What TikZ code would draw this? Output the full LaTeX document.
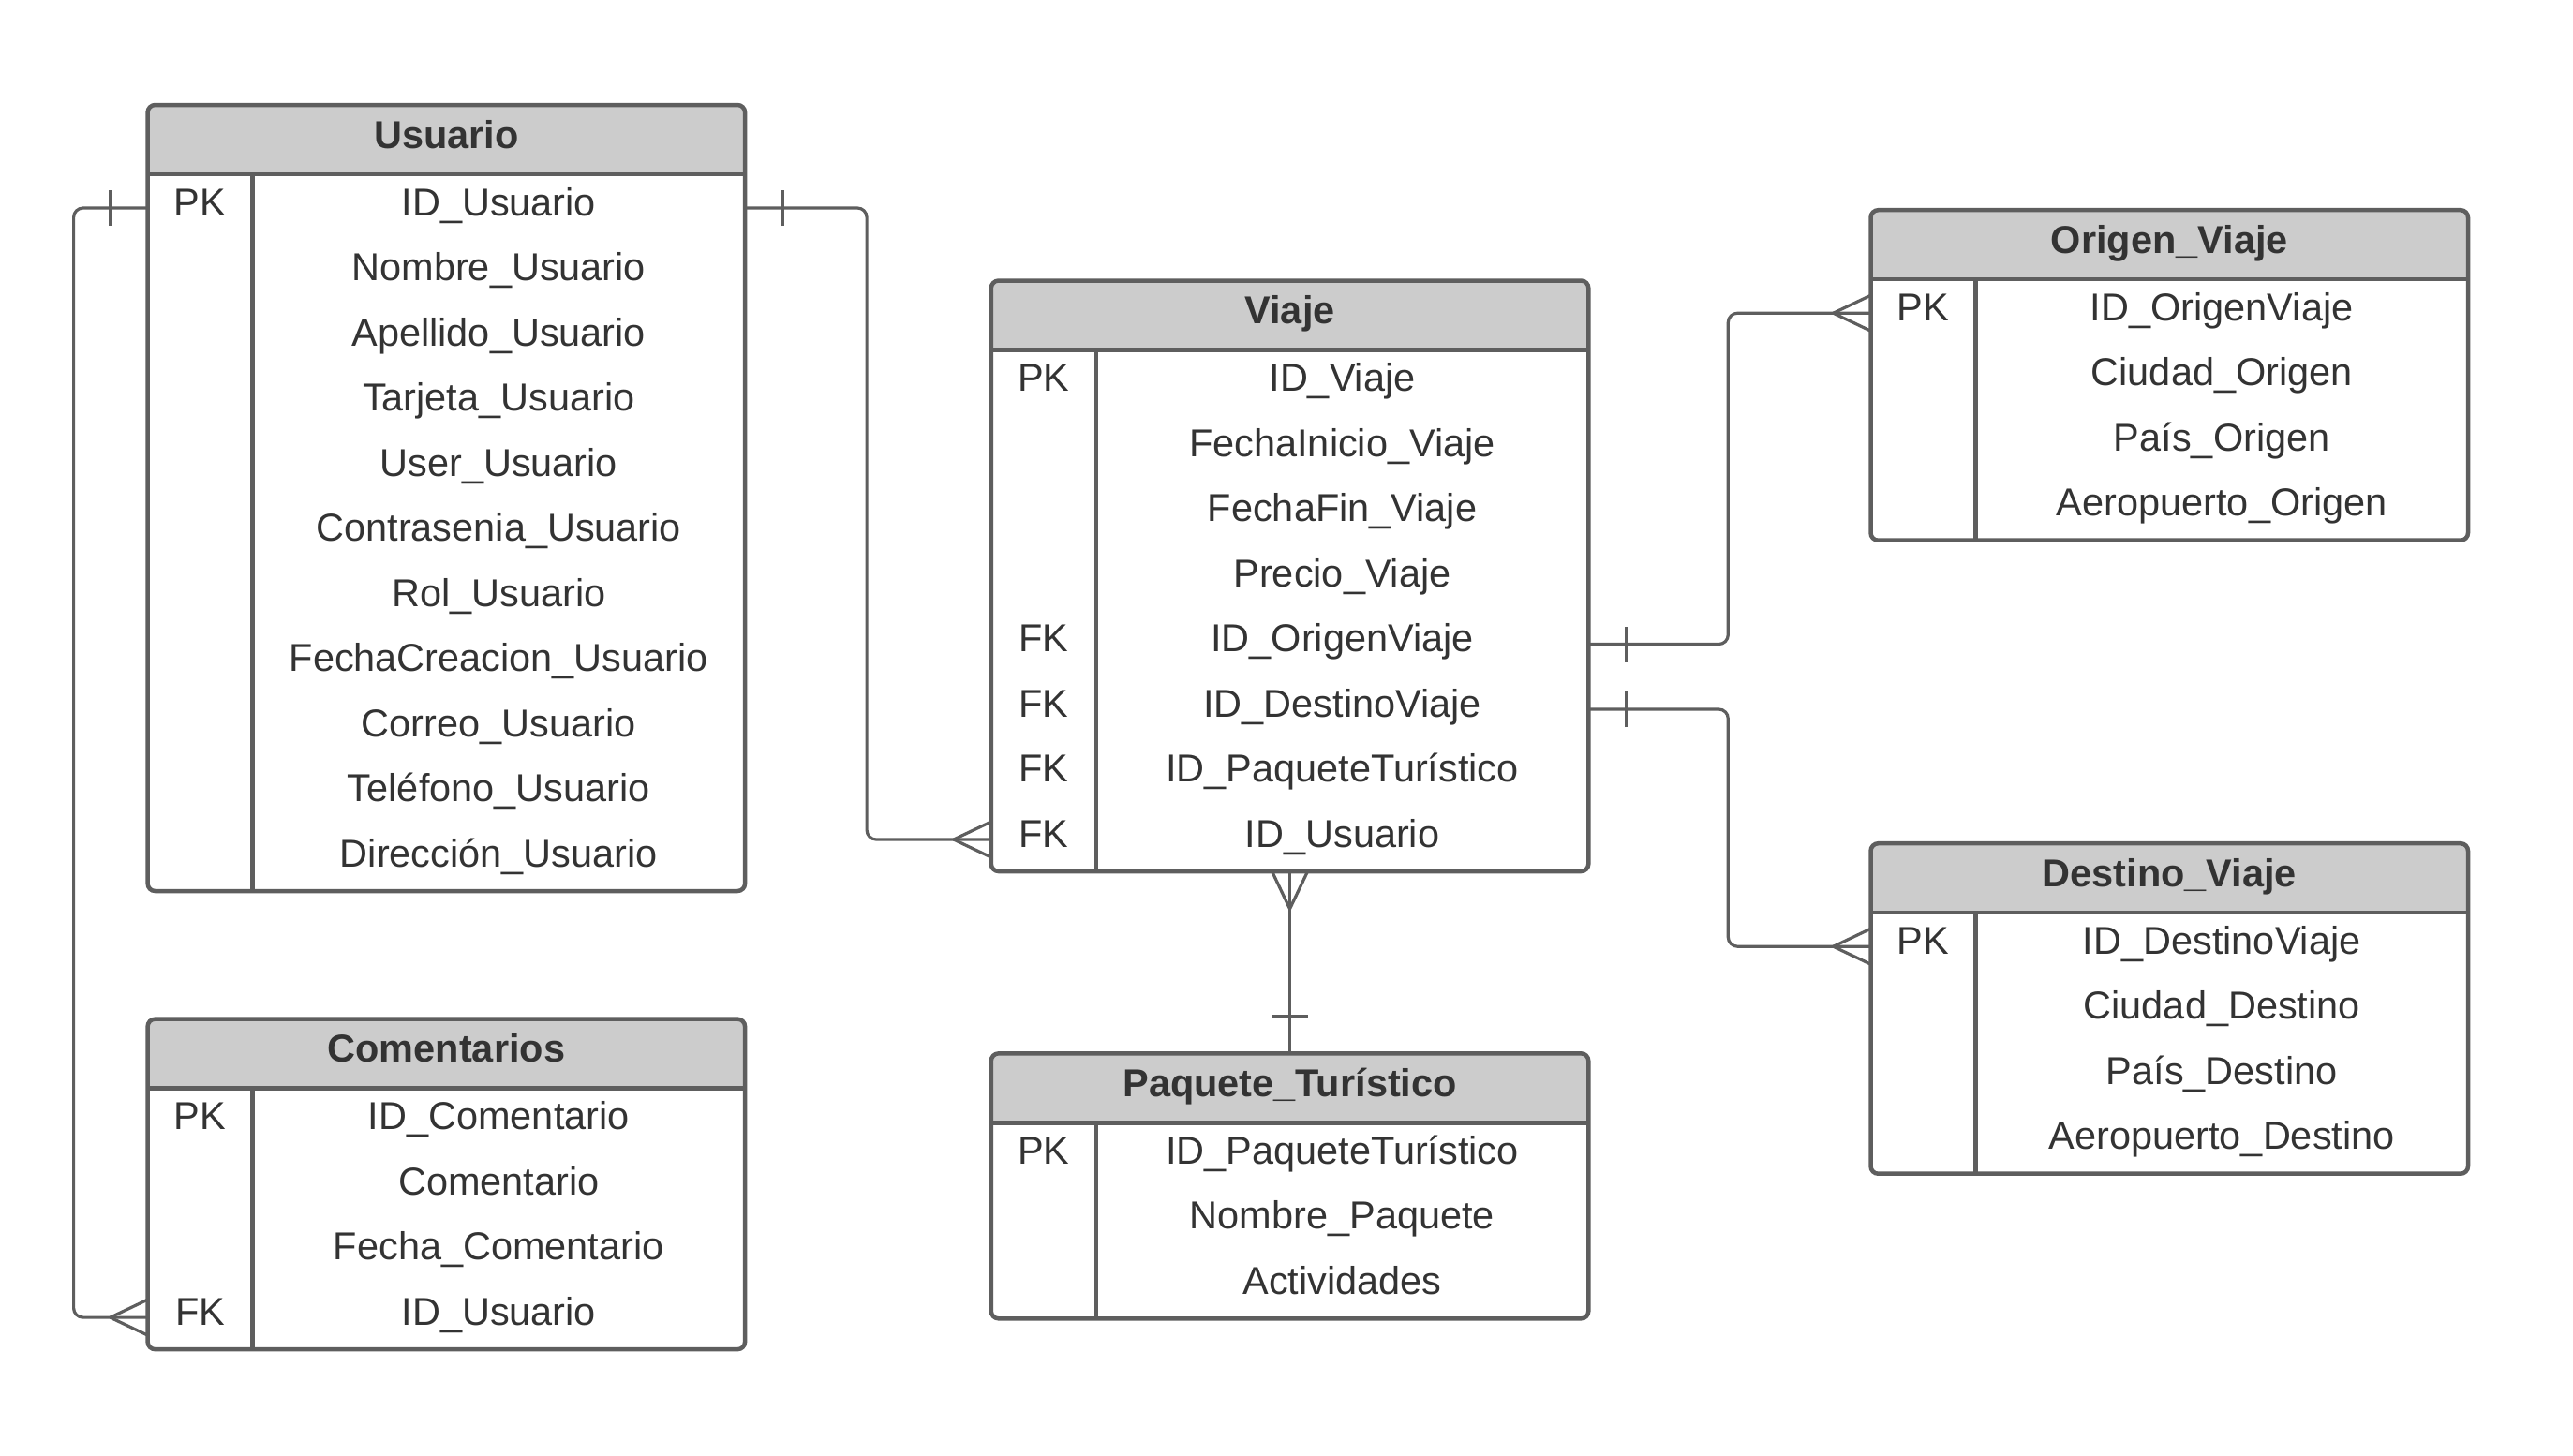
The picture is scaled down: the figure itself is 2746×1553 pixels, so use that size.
\documentclass[tikz,border=0pt]{standalone}
\usepackage{fontspec}
\setmainfont{Liberation Sans}
\definecolor{linegray}{HTML}{5E5E5E}
\definecolor{headgray}{HTML}{CCCCCC}
\definecolor{textgray}{HTML}{333333}

\begin{document}
\begin{tikzpicture}[x=0.1mm, y=-0.1mm,
    frame/.style={draw=linegray, line width=0.45mm, fill=white, rounded corners=0.8mm,
        minimum width=63.75mm, inner sep=0pt, outer sep=0pt, anchor=north west,
        path picture={\fill[headgray, sharp corners] (path picture bounding box.north west)
            rectangle ([yshift=-7.4mm]path picture bounding box.north east);}},
    rule/.style={draw=linegray, line width=0.45mm},
    title/.style={font=\fontsize{11.8}{14}\selectfont\bfseries, text=textgray, anchor=base, inner sep=0pt},
    cell/.style={font=\fontsize{11.8}{14}\selectfont, text=textgray, inner sep=0pt,
        text height=0.72em, text depth=0.26em},
    rel/.style={draw=linegray, line width=0.32mm, rounded corners=1mm},
    crowmany/.pic={\draw[rel] (-4mm,0) -- (0,1.9mm) (-4mm,0) -- (0,-1.9mm);},
    crowone/.pic={\draw[rel] (-4mm,1.9mm) -- (-4mm,-1.9mm);}]
    \useasboundingbox (0,0) rectangle (2746,1553);

    % tables
    \node[frame, minimum height=83.9mm] (usuario) at (157.6,112) {};
    \node[frame, minimum height=63.05mm] (viaje) at (1057.8,299.5) {};
    \node[frame, minimum height=35.25mm] (origen) at (1996.5,224.2) {};
    \node[frame, minimum height=35.25mm] (destino) at (1996.5,900.2) {};
    \node[frame, minimum height=35.25mm] (comentarios) at (157.6,1087.6) {};
    \node[frame, minimum height=28.3mm] (paquete) at (1057.8,1124.3) {};

    \foreach \t in {usuario,viaje,origen,destino,comentarios,paquete} {
        \draw[rule] ([yshift=-7.4mm]\t.north west) -- ([yshift=-7.4mm]\t.north east);
        \draw[rule] ([xshift=11.2mm,yshift=-7.4mm]\t.north west) -- ([xshift=11.2mm]\t.south west);
    }

    \node[title] (usuario-t) at ([yshift=-4.6mm]usuario.north) {Usuario};
    \node[title] (viaje-t) at ([yshift=-4.6mm]viaje.north) {Viaje};
    \node[title] (origen-t) at ([yshift=-4.6mm]origen.north) {Origen\_Viaje};
    \node[title] (destino-t) at ([yshift=-4.6mm]destino.north) {Destino\_Viaje};
    \node[title] (comentarios-t) at ([yshift=-4.6mm]comentarios.north) {Comentarios};
    \node[title] (paquete-t) at ([yshift=-4.6mm]paquete.north) {Paquete\_Turístico};

    % rows
    \foreach \k/\f [count=\i from 0] in {PK/ID\_Usuario, /Nombre\_Usuario, /Apellido\_Usuario,
        /Tarjeta\_Usuario, /User\_Usuario, /Contrasenia\_Usuario, /Rol\_Usuario,
        /FechaCreacion\_Usuario, /Correo\_Usuario, /Teléfono\_Usuario, /Dirección\_Usuario} {
        \node[cell] (usuario-k\i) at ([xshift=5.6mm, yshift=-11mm-\i*6.95mm]usuario.north west) {\k};
        \node[cell] (usuario-\i) at ([xshift=37.47mm, yshift=-11mm-\i*6.95mm]usuario.north west) {\f};
    }
    \foreach \k/\f [count=\i from 0] in {PK/ID\_Viaje, /FechaInicio\_Viaje, /FechaFin\_Viaje,
        /Precio\_Viaje, FK/ID\_OrigenViaje, FK/ID\_DestinoViaje, FK/ID\_PaqueteTurístico, FK/ID\_Usuario} {
        \node[cell] (viaje-k\i) at ([xshift=5.6mm, yshift=-11mm-\i*6.95mm]viaje.north west) {\k};
        \node[cell] (viaje-\i) at ([xshift=37.47mm, yshift=-11mm-\i*6.95mm]viaje.north west) {\f};
    }
    \foreach \k/\f [count=\i from 0] in {PK/ID\_OrigenViaje, /Ciudad\_Origen, /País\_Origen, /Aeropuerto\_Origen} {
        \node[cell] (origen-k\i) at ([xshift=5.6mm, yshift=-11mm-\i*6.95mm]origen.north west) {\k};
        \node[cell] (origen-\i) at ([xshift=37.47mm, yshift=-11mm-\i*6.95mm]origen.north west) {\f};
    }
    \foreach \k/\f [count=\i from 0] in {PK/ID\_DestinoViaje, /Ciudad\_Destino, /País\_Destino, /Aeropuerto\_Destino} {
        \node[cell] (destino-k\i) at ([xshift=5.6mm, yshift=-11mm-\i*6.95mm]destino.north west) {\k};
        \node[cell] (destino-\i) at ([xshift=37.47mm, yshift=-11mm-\i*6.95mm]destino.north west) {\f};
    }
    \foreach \k/\f [count=\i from 0] in {PK/ID\_Comentario, /Comentario, /Fecha\_Comentario, FK/ID\_Usuario} {
        \node[cell] (comentarios-k\i) at ([xshift=5.6mm, yshift=-11mm-\i*6.95mm]comentarios.north west) {\k};
        \node[cell] (comentarios-\i) at ([xshift=37.47mm, yshift=-11mm-\i*6.95mm]comentarios.north west) {\f};
    }
    \foreach \k/\f [count=\i from 0] in {PK/ID\_PaqueteTurístico, /Nombre\_Paquete, /Actividades} {
        \node[cell] (paquete-k\i) at ([xshift=5.6mm, yshift=-11mm-\i*6.95mm]paquete.north west) {\k};
        \node[cell] (paquete-\i) at ([xshift=37.47mm, yshift=-11mm-\i*6.95mm]paquete.north west) {\f};
    }

    % relations
    \draw[rel] (usuario.east |- usuario-0) -- ++(13mm,0) |- (viaje.west |- viaje-7);
    \pic[rotate=180] at (usuario.east |- usuario-0) {crowone};
    \pic at (viaje.west |- viaje-7) {crowmany};

    \draw[rel] (usuario.west |- usuario-0) -- ++(-7.9mm,0) |- (comentarios.west |- comentarios-3);
    \pic at (usuario.west |- usuario-0) {crowone};
    \pic at (comentarios.west |- comentarios-3) {crowmany};

    \draw[rel] (viaje.south) -- (paquete.north);
    \pic[rotate=90] at (viaje.south) {crowmany};
    \pic[rotate=-90] at (paquete.north) {crowone};

    \draw[rel] (viaje.east |- viaje-4) -- ++(14.9mm,0) |- (origen.west |- origen-0);
    \pic[rotate=180] at (viaje.east |- viaje-4) {crowone};
    \pic at (origen.west |- origen-0) {crowmany};

    \draw[rel] (viaje.east |- viaje-5) -- ++(14.9mm,0) |- (destino.west |- destino-0);
    \pic[rotate=180] at (viaje.east |- viaje-5) {crowone};
    \pic at (destino.west |- destino-0) {crowmany};
\end{tikzpicture}
\end{document}
